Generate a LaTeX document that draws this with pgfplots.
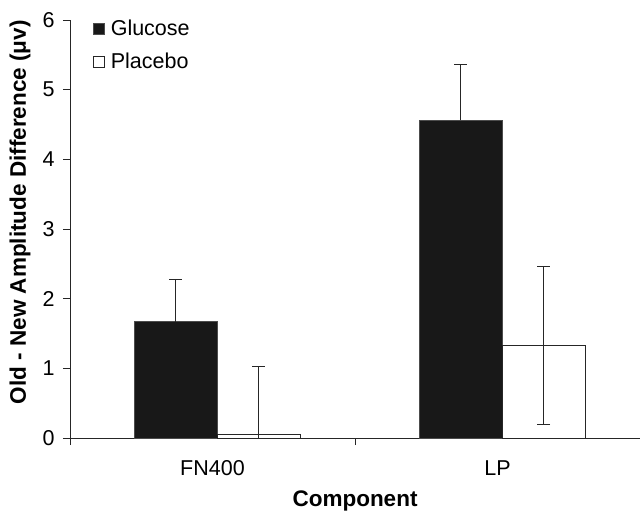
\documentclass[border=0pt]{standalone}
\usepackage{fontspec}
\setmainfont{Liberation Sans}
\usepackage{pgfplots}
\pgfplotsset{compat=1.18}
\definecolor{barblack}{HTML}{181818}
\begin{document}
\begin{tikzpicture}
\useasboundingbox (-70bp,-75bp) rectangle (570bp,438bp);
\begin{axis}[
    scale only axis,
    width=570bp, height=418bp,
    xmin=-0.5, xmax=1.5,
    ymin=0, ymax=6,
    axis x line*=bottom, axis y line*=left,
    axis line style={black!85, line width=0.8pt},
    ytick={0,1,2,3,4,5,6},
    xtick={0,1},
    xticklabels={FN400, LP},
    minor xtick={-0.5,0.5,1.5},
    tick align=outside,
    major tick length=7bp, minor tick length=7bp,
    major x tick style={draw=none},
    tick style={black!85, line width=0.8pt},
    /pgf/number format/assume math mode=true,
    ticklabel style={font=\fontsize{21.5bp}{25bp}\selectfont},
    xticklabel style={yshift=-12bp},
    yticklabel style={xshift=-5bp},
    ylabel={Old - New Amplitude Difference (μv)},
    xlabel={Component},
    ylabel style={at={(axis description cs:-0.0877,0.54)}, anchor=center,
        font=\fontsize{22.5bp}{26bp}\selectfont\bfseries},
    xlabel style={at={(axis description cs:0.5,-0.163)}, anchor=base,
        font=\fontsize{22.5bp}{26bp}\selectfont\bfseries},
    ybar, bar width=0.29,
    legend style={draw=none, fill=none, at={(axis description cs:0.04,1.005)},
        anchor=north west, font=\fontsize{21.5bp}{25bp}\selectfont,
        row sep=12bp, inner sep=0pt, nodes={inner xsep=2bp}},
    legend cell align=left,
    legend image code/.code={\draw[#1, line width=0.8pt] (0bp,-5.5bp) rectangle (11bp,5.5bp);
        \path (15bp,0bp);},
    error bars/error mark options={rotate=90, mark size=6.5bp, line width=1pt, black!85},
    error bars/error bar style={line width=1pt, black!85},
]
\addplot[fill=barblack, draw=black!70, bar shift=-0.129,
    error bars/.cd, y dir=plus, y explicit]
    coordinates {(0,1.67) +- (0,0.60) (1,4.56) +- (0,0.80)};
\addplot[fill=white, draw=black!85, line width=0.8pt, bar shift=0.162,
    error bars/.cd, y dir=both, y explicit]
    coordinates {(0,0.05) +- (0,0.98) (1,1.33) +- (0,1.13)};
\legend{Glucose, Placebo}
\end{axis}
\end{tikzpicture}
\end{document}
